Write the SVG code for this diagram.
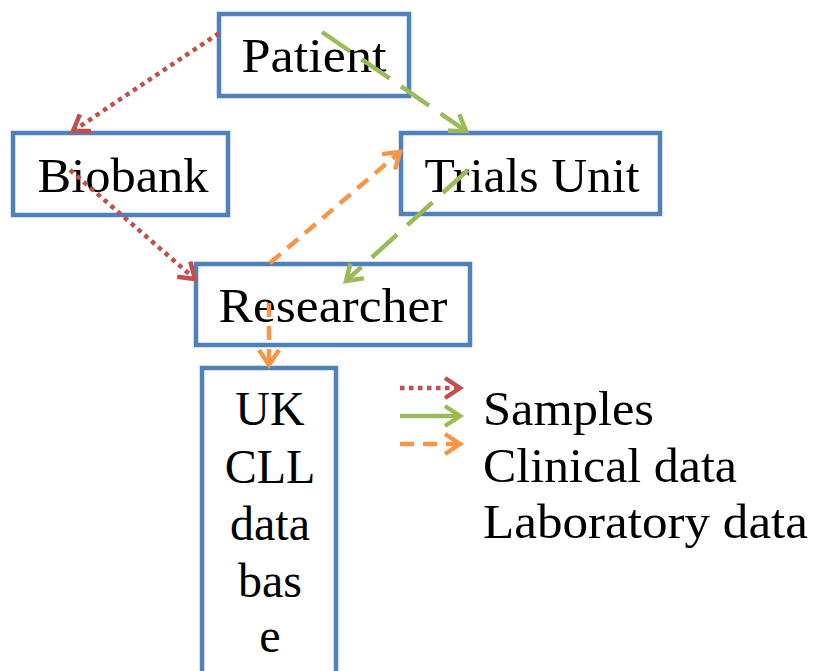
<svg xmlns="http://www.w3.org/2000/svg" width="816" height="671" viewBox="0 0 816 671">
<style>
.box{fill:#fff;stroke:#4F81BD;stroke-width:4.5}
.t{font-family:"Liberation Serif","DejaVu Serif",serif;font-size:48px;fill:#000}
.c{text-anchor:middle}
.red{stroke:#C0504D;stroke-width:4.5;fill:none;stroke-dasharray:4.5 4.5}
.grn{stroke:#9BBB59;stroke-width:4.5;fill:none;stroke-dasharray:34 14}
.grs{stroke:#9BBB59;stroke-width:4.5;fill:none}
.org{stroke:#F79646;stroke-width:4.5;fill:none;stroke-dasharray:14 9}
</style>
<defs>
<marker id="aR" markerUnits="userSpaceOnUse" markerWidth="30" markerHeight="30" refX="0" refY="0" viewBox="-20 -15 30 30" orient="auto" overflow="visible"><path d="M-15,-10 L0,0 L-15,10" fill="none" stroke="#C0504D" stroke-width="4.5"/></marker>
<marker id="aG" markerUnits="userSpaceOnUse" markerWidth="30" markerHeight="30" refX="0" refY="0" viewBox="-20 -15 30 30" orient="auto" overflow="visible"><path d="M-15,-10 L0,0 L-15,10" fill="none" stroke="#9BBB59" stroke-width="4.5"/></marker>
<marker id="aO" markerUnits="userSpaceOnUse" markerWidth="30" markerHeight="30" refX="0" refY="0" viewBox="-20 -15 30 30" orient="auto" overflow="visible"><path d="M-15,-10 L0,0 L-15,10" fill="none" stroke="#F79646" stroke-width="4.5"/></marker>
</defs>
<g id="patient"><rect class="box" x="219" y="14" width="190" height="82"/><text class="t c" x="314" y="72" textLength="145" lengthAdjust="spacingAndGlyphs">Patient</text></g>
<g id="biobank"><rect class="box" x="13" y="133" width="215" height="82"/><text class="t c" x="123" y="192" textLength="171" lengthAdjust="spacingAndGlyphs">Biobank</text></g>
<g id="trials"><rect class="box" x="401" y="133" width="259" height="81"/><text class="t c" x="532" y="192" textLength="215" lengthAdjust="spacingAndGlyphs">Trials Unit</text></g>
<g id="researcher"><rect class="box" x="196" y="264" width="274" height="81"/><text class="t c" x="333" y="322" textLength="229" lengthAdjust="spacingAndGlyphs">Researcher</text></g>
<g id="ukcll"><rect class="box" x="202" y="368" width="134" height="330"/>
<text class="t c" x="270" y="425">UK</text>
<text class="t c" x="270" y="483">CLL</text>
<text class="t c" x="270" y="540">data</text>
<text class="t c" x="270" y="597">bas</text>
<text class="t c" x="270" y="652">e</text></g>
<g id="legend">
<line class="red" x1="400" y1="388" x2="460" y2="388" marker-end="url(#aR)"/>
<line class="grs" x1="400" y1="416" x2="460" y2="416" marker-end="url(#aG)"/>
<line class="org" x1="400" y1="444" x2="460" y2="444" marker-end="url(#aO)"/>
<text class="t" x="483" y="425" textLength="171" lengthAdjust="spacingAndGlyphs">Samples</text>
<text class="t" x="483" y="482" textLength="254" lengthAdjust="spacingAndGlyphs">Clinical data</text>
<text class="t" x="483" y="538" textLength="325" lengthAdjust="spacingAndGlyphs">Laboratory data</text>
</g>
<g id="connectors">
<line class="red" x1="219" y1="33" x2="73" y2="131" marker-end="url(#aR)"/>
<line class="red" x1="70" y1="170" x2="195" y2="279" marker-end="url(#aR)"/>
<line class="grn" x1="322" y1="32" x2="466" y2="131" marker-end="url(#aG)"/>
<line class="grn" x1="468" y1="170" x2="346" y2="281" marker-end="url(#aG)"/>
<line class="org" x1="270" y1="263" x2="400" y2="152" marker-end="url(#aO)"/>
<line class="org" x1="269" y1="303" x2="269" y2="365" marker-end="url(#aO)"/>
</g>
</svg>
